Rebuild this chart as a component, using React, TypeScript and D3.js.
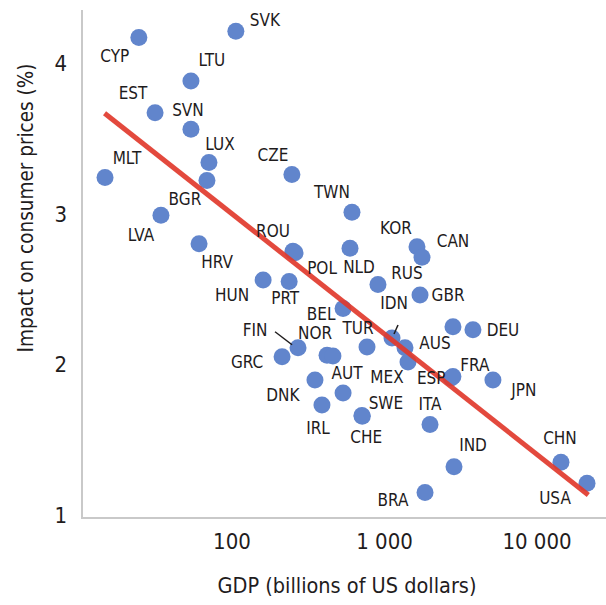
import React, { useEffect, useRef } from 'react';
import * as d3 from 'd3';

// country, GDP (bn US$), impact on consumer prices (%)
const countries = ['CYP','SVK','LTU','EST','SVN','LUX','BGR','MLT','LVA','HRV','CZE','TWN','ROU','POL','NLD','KOR','CAN','HUN','PRT','RUS','GBR','BEL','GRC','FIN','NOR','','TUR','IDN','AUS','MEX','','DEU','FRA','ESP','JPN','DNK','AUT','IRL','SWE','CHE','ITA','IND','BRA','CHN','USA'];
const gdp = [24.5,106,53.8,31.3,53.8,70.6,68.5,14.7,34.2,60.8,247,612,251,259,594,1633,1762,160,237,906,1710,535,213,271,420,459,768,1120,1363,1426,2812,3802,2810,2740,5140,350,535,389,711,715,1988,2856,1844,14360,21280];
const impact = [4.17,4.21,3.88,3.67,3.56,3.34,3.22,3.24,2.99,2.80,3.26,3.01,2.75,2.74,2.77,2.78,2.71,2.56,2.55,2.53,2.46,2.37,2.05,2.11,2.06,2.055,2.115,2.175,2.11,2.015,2.25,2.23,1.92,1.91,1.896,1.896,1.81,1.73,1.66,1.655,1.60,1.32,1.15,1.35,1.21];

const xTicks = [100, 1000, 10000];
const xTickLabels = ['100', '1 000', '10 000'];
const yTicks = [1, 2, 3, 4];

// fitted line: two end points [GDP, impact]
const trendLine: [number, number][] = [[14.6, 3.667], [21700, 1.133]];

// label placement (pixel offsets from the dot)
const labelOffset: Record<string, [number, number]> = {
  CYP: [-24, 18], SVK: [29, -11], LTU: [21, -21], EST: [-22, -20], SVN: [-3, -19],
  LUX: [11, -19], BGR: [-22, 18], MLT: [22, -20], LVA: [-20, 20], HRV: [18, 18],
  CZE: [-19, -20], TWN: [-20, -20], ROU: [-20, -20], POL: [27, 15], NLD: [9, 19],
  KOR: [-21, -19], CAN: [31, -16], HUN: [-31, 15], PRT: [-4, 16], RUS: [29, -12],
  GBR: [28, 0], BEL: [-22, 5], GRC: [-35, 5], FIN: [-43, -18], NOR: [-12, -22],
  TUR: [-9, -19], IDN: [2, -35], AUS: [30, -5], MEX: [-21, 15], DEU: [30, 0],
  FRA: [22, -12], ESP: [-20, 0], JPN: [31, 10], DNK: [-32, 15], AUT: [4, -20],
  IRL: [-4, 23], SWE: [24, -13], CHE: [4, 21], ITA: [0, -21], IND: [19, -22],
  BRA: [-32, 7], CHN: [-1, -24], USA: [-32, 15],
};
// leader lines [x1, y1, x2, y2] relative to the dot
const leaders: Record<string, [number, number, number, number]> = {
  FIN: [-23, -16, -6, -3],
  IDN: [6, -13, 2, -4],
};

const FONT = '"Liberation Sans Narrow", "DejaVu Sans Condensed", "Roboto Condensed", sans-serif';

export default function App() {
  const ref = useRef<SVGSVGElement>(null);

  useEffect(() => {
    const svg = d3.select(ref.current);
    svg.selectAll('*').remove();

    const decade = 152.5;
    const x = d3.scaleLog().domain([100, 10000]).range([232, 232 + 2 * decade]);
    const y = d3.scaleLinear().domain([1, 4]).range([515, 63]);

    // axes
    svg.append('line').attr('x1', 82).attr('x2', 82).attr('y1', 10).attr('y2', 518)
      .attr('stroke', '#c9c9c9').attr('stroke-width', 2);
    svg.append('line').attr('x1', 81).attr('x2', 606).attr('y1', 518).attr('y2', 518)
      .attr('stroke', '#c9c9c9').attr('stroke-width', 2);

    svg.append('g').selectAll('text').data(yTicks).enter().append('text')
      .attr('x', 67).attr('y', (d) => y(d)).attr('dy', '0.36em')
      .attr('text-anchor', 'end').attr('font-size', 22).attr('font-family', FONT)
      .attr('fill', '#1f1c1d').text((d) => d);

    svg.append('g').selectAll('text').data(xTicks).enter().append('text')
      .attr('x', (d) => x(d)).attr('y', 549)
      .attr('text-anchor', 'middle').attr('font-size', 22).attr('font-family', FONT)
      .attr('fill', '#1f1c1d').text((d, i) => xTickLabels[i]);

    svg.append('text').attr('transform', 'translate(33,208) rotate(-90)')
      .attr('text-anchor', 'middle').attr('font-size', 20.5).attr('font-family', FONT)
      .attr('fill', '#1f1c1d').text('Impact on consumer prices (%)');
    svg.append('text').attr('x', 347).attr('y', 593)
      .attr('text-anchor', 'middle').attr('font-size', 21.5).attr('font-family', FONT)
      .attr('fill', '#1f1c1d').text('GDP (billions of US dollars)');

    const pts = countries.map((c, i) => ({ c, px: x(gdp[i]), py: y(impact[i]) }));

    // dots
    svg.append('g').selectAll('circle').data(pts).enter().append('circle')
      .attr('cx', (d) => d.px).attr('cy', (d) => d.py).attr('r', 8.5)
      .attr('fill', '#6185cc');

    // trend line
    svg.append('path')
      .attr('d', d3.line<[number, number]>().x((d) => x(d[0])).y((d) => y(d[1]))(trendLine))
      .attr('stroke', '#e1392c').attr('stroke-width', 5).attr('fill', 'none')
      .attr('stroke-opacity', 0.92);

    // leaders
    svg.append('g').selectAll('line').data(pts.filter((d) => leaders[d.c])).enter().append('line')
      .attr('x1', (d) => d.px + leaders[d.c][0]).attr('y1', (d) => d.py + leaders[d.c][1])
      .attr('x2', (d) => d.px + leaders[d.c][2]).attr('y2', (d) => d.py + leaders[d.c][3])
      .attr('stroke', '#1f1c1d').attr('stroke-width', 1.5);

    // labels
    svg.append('g').selectAll('text').data(pts.filter((d) => labelOffset[d.c])).enter().append('text')
      .attr('x', (d) => d.px + labelOffset[d.c][0]).attr('y', (d) => d.py + labelOffset[d.c][1])
      .attr('dy', '0.36em').attr('text-anchor', 'middle')
      .attr('font-size', 17).attr('font-family', FONT).attr('fill', '#1f1c1d')
      .text((d) => d.c);
  }, []);

  return (
    <svg ref={ref} width={606} height={605}
      style={{ position: 'absolute', left: 0, top: 0, background: '#fff' }} />
  );
}
